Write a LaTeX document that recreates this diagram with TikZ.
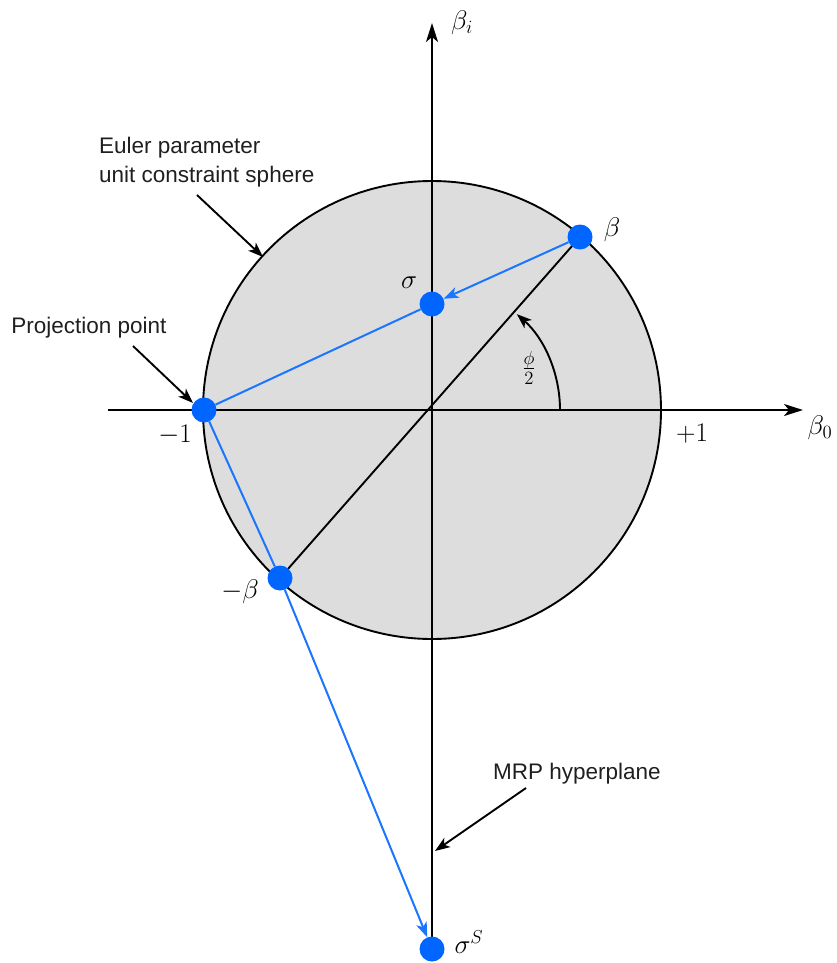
\documentclass[tikz,border=0pt]{standalone}
\usepackage{fontspec}
\setsansfont{Liberation Sans}
\usetikzlibrary{arrows.meta}
\definecolor{dotblue}{RGB}{0,102,255}
\definecolor{lineblue}{RGB}{26,117,255}
\definecolor{spheregray}{RGB}{221,221,221}
\newcommand{\mlb}[1]{\scalebox{1.3}{$#1$}}
\begin{document}
\begin{tikzpicture}[x=1pt,y=-1pt,
  tipk/.style={-{Stealth[length=15pt,width=11pt,inset=4pt]}},
  axis/.style={line width=2pt, -{Stealth[length=19pt,width=12pt,inset=5pt]}},
  dot/.style={circle, fill=dotblue, minimum size=25pt, inner sep=0pt},
  note/.style={font=\sffamily\fontsize{22.5}{29}\selectfont, text=black!88, inner sep=2pt},
  mlab/.style={font=\fontsize{20.74}{25}\selectfont, inner sep=0pt},
  ptr/.style={line width=1.9pt, tipk},
  proj/.style={draw=lineblue, line width=2pt}]
\useasboundingbox (0,0) rectangle (837,963);
\coordinate (O) at (432,410);
\fill[spheregray] (O) circle[radius=229pt];
\draw[line width=1.9pt] (O) circle[radius=229pt];
\coordinate (xl) at (108,410);
\coordinate (xr) at (803,410);
\coordinate (yb) at (432,949);
\coordinate (yt) at (432,23);
\draw[axis] (xl) -- (xr);
\draw[axis] (yb) -- (yt);
% diameter beta -- -beta
\coordinate (bc) at (580,237);
\coordinate (mbc) at (280,578);
\draw[line width=1.9pt] (bc) -- (mbc);
% angle arc
\coordinate (arcstart) at (560,410);
\draw[line width=1.9pt, tipk] (arcstart) arc[start angle=0, end angle=48.5, radius=128pt];
% dots
\node[dot] (beta) at (bc) {};
\node[dot] (sigma) at (432,304) {};
\node[dot] (P) at (204,410) {};
\node[dot] (mb) at (mbc) {};
\node[dot] (sS) at (432,949) {};
% blue projection lines
\draw[proj, tipk] (beta) -- (sigma);
\draw[proj] (sigma) -- (P);
\draw[proj] (P) -- (mb);
\draw[proj, tipk] (mb) -- (sS);
% math labels
\node[mlab] (lbi) at (462,23) {\mlb{\beta_i}};
\node[mlab] (lb0) at (820,428) {\mlb{\beta_0}};
\node[mlab] (lp1) at (692,434) {\mlb{+1}};
\node[mlab] (lm1) at (175,435) {\mlb{-1}};
\node[mlab] (lbeta) at (612,230) {\mlb{\beta}};
\node[mlab] (lsigma) at (409,283) {\mlb{\sigma}};
\node[mlab] (lmbeta) at (240,592) {\mlb{-\beta}};
\node[mlab] (lsS) at (469,942) {\mlb{\sigma^S}};
\node[mlab] (lphi) at (529,368) {\mlb{\frac{\phi}{2}}};
% annotations
\node[note, align=left, anchor=west] (euler) at (97,162) {Euler parameter\\unit constraint sphere};
\coordinate (eulers) at (197,195);
\coordinate (eulert) at (263,257);
\draw[ptr] (eulers) -- (eulert);
\node[note] (projlab) at (89,328) {Projection point};
\coordinate (projs) at (133,346);
\coordinate (projt) at (193,403);
\draw[ptr] (projs) -- (projt);
\node[note] (mrp) at (577,774) {MRP hyperplane};
\coordinate (mrps) at (526,788);
\coordinate (mrpt) at (435,851);
\draw[ptr] (mrps) -- (mrpt);
\end{tikzpicture}
\end{document}
